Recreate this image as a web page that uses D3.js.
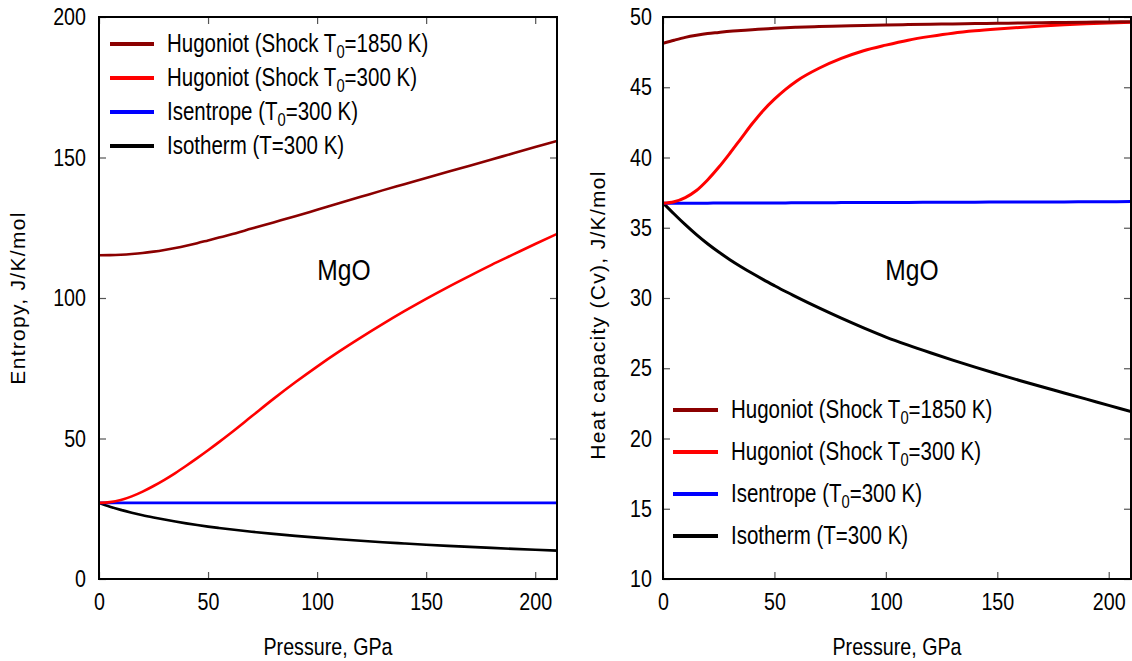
<!DOCTYPE html>
<html>
<head>
<meta charset="utf-8">
<script src="https://cdn.jsdelivr.net/npm/d3@7"></script>
<style>
  html, body { margin: 0; padding: 0; background: #fff; }
  svg { display: block; }
  text { font-family: "Liberation Sans", Arial, sans-serif; }
</style>
</head>
<body>
<svg id="chart" width="1132" height="661"></svg>
<script>
// Pressure grid (GPa) shared by every curve
const pressure = [0, 5, 10, 15, 20, 25, 30, 35, 40, 45, 50, 55, 60, 70, 80, 90, 100,
                  110, 120, 130, 140, 150, 160, 170, 180, 190, 200, 210];

// Entropy, J/K/mol
const entropyHug1850 = [115.2, 115.25, 115.4, 115.65, 116.0, 116.5, 117.1, 117.8, 118.6, 119.5, 120.5, 121.5, 122.5,
                        124.7, 126.9, 129.1, 131.4, 133.7, 136.0, 138.3, 140.5, 142.7, 144.9, 147.1, 149.3, 151.5, 153.7, 155.9];
const entropyHug300  = [27.1, 27.35, 28.1, 29.4, 31.1, 33.1, 35.3, 37.7, 40.3, 43.0, 45.8, 48.7, 51.7,
                        57.9, 64.1, 70.0, 75.6, 80.9, 85.9, 90.7, 95.3, 99.7, 103.9, 107.9, 111.8, 115.5, 119.2, 122.8];
const entropyIsentrope = [27.1, 27.1, 27.1, 27.1, 27.1, 27.1, 27.1, 27.1, 27.1, 27.1, 27.1, 27.1, 27.1,
                          27.1, 27.1, 27.1, 27.1, 27.1, 27.1, 27.1, 27.1, 27.1, 27.1, 27.1, 27.1, 27.1, 27.1, 27.1];
const entropyIsotherm  = [27.1, 25.75, 24.6, 23.6, 22.7, 21.9, 21.15, 20.45, 19.8, 19.2, 18.65, 18.15, 17.68,
                          16.82, 16.05, 15.35, 14.72, 14.14, 13.6, 13.1, 12.64, 12.2, 11.8, 11.42, 11.06, 10.72, 10.4, 10.1];

// Heat capacity Cv, J/K/mol
const cvHug1850 = [48.13, 48.35, 48.55, 48.7, 48.82, 48.9, 48.98, 49.04, 49.1, 49.15, 49.2, 49.24, 49.27,
                   49.32, 49.36, 49.4, 49.43, 49.46, 49.48, 49.51, 49.53, 49.55, 49.57, 49.59, 49.61, 49.63, 49.65, 49.66];
const cvHug300  = [36.74, 36.85, 37.15, 37.65, 38.4, 39.3, 40.3, 41.35, 42.4, 43.35, 44.15, 44.85, 45.45,
                   46.35, 47.05, 47.6, 48.0, 48.35, 48.62, 48.85, 49.02, 49.15, 49.26, 49.36, 49.45, 49.52, 49.58, 49.63];
const cvIsentrope = [36.74, 36.74, 36.75, 36.75, 36.75, 36.76, 36.76, 36.76, 36.76, 36.77, 36.77, 36.77, 36.78,
                     36.78, 36.79, 36.79, 36.80, 36.80, 36.81, 36.81, 36.82, 36.83, 36.83, 36.84, 36.84, 36.85, 36.85, 36.86];
const cvIsotherm  = [36.78, 35.98, 35.22, 34.51, 33.86, 33.27, 32.73, 32.23, 31.76, 31.31, 30.88, 30.46, 30.06,
                     29.29, 28.56, 27.87, 27.22, 26.64, 26.1, 25.58, 25.08, 24.6, 24.13, 23.68, 23.24, 22.8, 22.36, 21.92];

// Legend entries: [prefix, subscript, suffix]
const legendLabels = [
  ["Hugoniot (Shock T", "0", "=1850 K)"],
  ["Hugoniot (Shock T", "0", "=300 K)"],
  ["Isentrope (T", "0", "=300 K)"],
  ["Isotherm (T=300 K)", "", ""]
];
const seriesColors = ["#8b0000", "#ff0000", "#0000ff", "#000000"];

const xTicks = [0, 50, 100, 150, 200];
const entropyTicks = [0, 50, 100, 150, 200];
const cvTicks = [10, 15, 20, 25, 30, 35, 40, 45, 50];

// horizontal squeeze that gives the condensed sans look
const SQ = 0.82;

const svg = d3.select("#chart");

function narrowText(parent, x, y, size, str, anchor) {
  return parent.append("text")
    .attr("transform", `translate(${x},${y}) scale(${SQ},1)`)
    .attr("font-size", size)
    .attr("text-anchor", anchor || "start")
    .attr("fill", "#000")
    .text(str);
}

function drawPanel(cfg) {
  const x = d3.scaleLinear().domain([0, 210]).range([cfg.left, cfg.right]);
  const y = d3.scaleLinear().domain(cfg.yDomain).range([cfg.bottom, cfg.top]);
  const g = svg.append("g");

  const clipId = "clip-" + cfg.id;
  g.append("clipPath").attr("id", clipId).append("rect")
    .attr("x", cfg.left).attr("y", cfg.top)
    .attr("width", cfg.right - cfg.left).attr("height", cfg.bottom - cfg.top);

  // inward ticks on all four sides, labels on bottom and left only
  const tl = 7;
  const pad = 12;
  const axes = [
    [d3.axisBottom(x).tickValues(xTicks).tickSize(-tl).tickFormat(d3.format("d")), `translate(0,${cfg.bottom})`, "bottom"],
    [d3.axisTop(x).tickValues(xTicks).tickSize(-tl).tickFormat(""), `translate(0,${cfg.top})`, null],
    [d3.axisLeft(y).tickValues(cfg.yTicks).tickSize(-tl).tickFormat(d3.format("d")), `translate(${cfg.left},0)`, "left"],
    [d3.axisRight(y).tickValues(cfg.yTicks).tickSize(-tl).tickFormat(""), `translate(${cfg.right},0)`, null]
  ];
  axes.forEach(([ax, tr, side]) => {
    const a = g.append("g").attr("transform", tr).call(ax.tickPadding(pad));
    a.select(".domain").remove();
    a.selectAll("line").attr("stroke", "#555").attr("stroke-width", 1.2);
    const txt = a.selectAll("text").attr("font-size", 24).attr("fill", "#000")
      .attr("font-family", null);
    if (side === "left") {
      txt.attr("x", -cfg.yLabelPad / SQ).attr("transform", `scale(${SQ},1)`);
    } else if (side === "bottom") {
      txt.attr("y", 14).attr("transform", `scale(${SQ},1)`);
    }
  });

  // curves
  const line = d3.line()
    .x((d, i) => x(pressure[i]))
    .y(d => y(d))
    .curve(d3.curveMonotoneX);
  const plot = g.append("g").attr("clip-path", `url(#${clipId})`);
  [3, 2, 1, 0].forEach(k => {
    plot.append("path").datum(cfg.series[k])
      .attr("d", line)
      .attr("fill", "none")
      .attr("stroke", seriesColors[k])
      .attr("stroke-width", cfg.lineWidth);
  });

  // frame
  g.append("rect")
    .attr("x", cfg.left).attr("y", cfg.top)
    .attr("width", cfg.right - cfg.left).attr("height", cfg.bottom - cfg.top)
    .attr("fill", "none").attr("stroke", "#000").attr("stroke-width", 2);

  // legend
  const lg = g.append("g");
  legendLabels.forEach((lab, i) => {
    const ly = cfg.legendY + i * cfg.legendStep;
    lg.append("line")
      .attr("x1", cfg.legendX).attr("x2", cfg.legendX + cfg.legendLen)
      .attr("y1", ly).attr("y2", ly)
      .attr("stroke", seriesColors[i]).attr("stroke-width", 4);
    const t = narrowText(lg, cfg.legendX + cfg.legendLen + 13, ly + 8, 25, "");
    t.append("tspan").text(lab[0]);
    if (lab[1]) {
      t.append("tspan").text(lab[1]).attr("font-size", 18).attr("dy", 6);
      t.append("tspan").text(lab[2]).attr("dy", -6);
    }
  });

  // substance label
  narrowText(g, cfg.nameX, 280, 30, "MgO", "middle");

  // axis titles
  narrowText(g, (cfg.left + cfg.right) / 2, 655, 24, "Pressure, GPa", "middle");
  g.append("text")
    .attr("transform", `translate(${cfg.yTitleX},${cfg.yTitleY}) rotate(-90)`)
    .attr("text-anchor", "middle").attr("font-size", 21)
    .attr("letter-spacing", 1.3)
    .text(cfg.yTitle);
}

drawPanel({
  id: "entropy", left: 99, right: 557, top: 17, bottom: 579,
  yDomain: [0, 200], yTicks: entropyTicks, yLabelPad: 13,
  series: [entropyHug1850, entropyHug300, entropyIsentrope, entropyIsotherm],
  lineWidth: 2.6,
  legendX: 110, legendLen: 44, legendY: 44, legendStep: 34,
  nameX: 344, yTitle: "Entropy, J/K/mol", yTitleX: 25, yTitleY: 298
});

drawPanel({
  id: "cv", left: 663, right: 1131, top: 17, bottom: 579,
  yDomain: [10, 50], yTicks: cvTicks, yLabelPad: 11,
  series: [cvHug1850, cvHug300, cvIsentrope, cvIsotherm],
  lineWidth: 3,
  legendX: 673, legendLen: 45, legendY: 410, legendStep: 42,
  nameX: 912, yTitle: "Heat capacity (Cv), J/K/mol", yTitleX: 605, yTitleY: 315
});
</script>
</body>
</html>
